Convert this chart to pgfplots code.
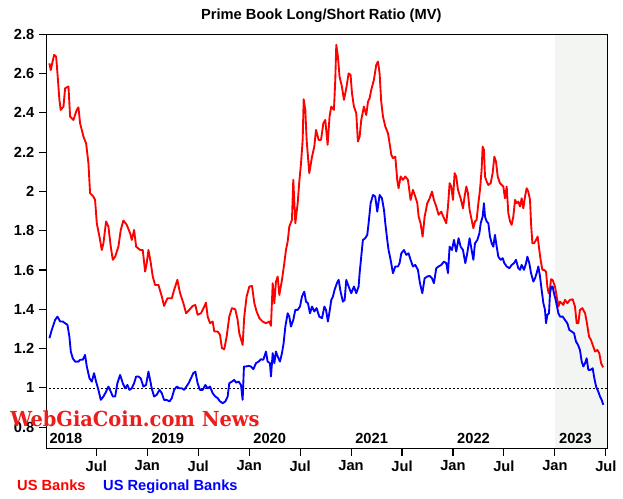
\documentclass[border=0pt]{standalone}
\usepackage{pgfplots}
\pgfplotsset{compat=1.18}
\usepackage{fontspec}
\setmainfont{Liberation Sans}
\newfontfamily\wmfont{DejaVu Serif}
\definecolor{bgshade}{RGB}{243,245,242}
\definecolor{wmred}{RGB}{235,30,30}
\tikzset{yearlab/.style={anchor=base west, inner sep=0pt, xshift=2pt, yshift=3.75pt,
        font=\fontsize{11}{13}\selectfont\bfseries}}

\begin{document}
\begin{tikzpicture}
\useasboundingbox (-35pt,-38pt) rectangle (432.3pt,336.2pt);
\begin{axis}[
  at={(0,0)}, anchor=south west,
  scale only axis, width=420.5pt, height=310.5pt,
  xmin=2018.013, xmax=2023.514, ymin=0.693, ymax=2.8,
  xtick={2018.5,2019,2019.5,2020,2020.5,2021,2021.5,2022,2022.5,2023,2023.5},
  xticklabels={Jul,Jan,Jul,Jan,Jul,Jan,Jul,Jan,Jul,Jan,Jul},
  ytick={0.8,1,1.2,1.4,1.6,1.8,2,2.2,2.4,2.6,2.8},
  xtick pos=bottom, ytick pos=left,
  tick align=outside, major tick length=5.8pt,
  tick style={black, line width=0.8pt},
  axis line style={line width=0.8pt},
  ticklabel style={font=\fontsize{11}{13}\selectfont\bfseries},
  /pgf/number format/assume math mode=true,
  axis on top,
]
\fill[bgshade] (axis cs:2023,0.5) rectangle (axis cs:2024,3);
\addplot[black, line width=0.6pt, dash pattern=on 1.5pt off 1.5pt] coordinates {(2018,1) (2024,1)};

% US Banks
\addplot[red, line width=1.4pt, line join=round] coordinates {
(2018.040,2.652) (2018.053,2.618) (2018.086,2.695) (2018.106,2.686) (2018.119,2.601)
(2018.138,2.466) (2018.151,2.415) (2018.178,2.432) (2018.194,2.525) (2018.227,2.534)
(2018.243,2.381) (2018.276,2.364) (2018.308,2.415) (2018.325,2.428) (2018.341,2.347)
(2018.374,2.279) (2018.400,2.245) (2018.423,2.143) (2018.439,1.991) (2018.472,1.974)
(2018.488,1.957) (2018.505,1.838) (2018.531,1.770) (2018.554,1.702) (2018.570,1.736)
(2018.596,1.847) (2018.619,1.821) (2018.642,1.719) (2018.662,1.652) (2018.685,1.668)
(2018.717,1.719) (2018.740,1.804) (2018.766,1.852) (2018.799,1.830) (2018.832,1.787)
(2018.848,1.753) (2018.871,1.804) (2018.891,1.719) (2018.930,1.702) (2018.956,1.702)
(2018.979,1.592) (2018.995,1.635) (2019.012,1.702) (2019.035,1.635) (2019.054,1.567)
(2019.077,1.524) (2019.110,1.524) (2019.143,1.465) (2019.165,1.417) (2019.198,1.456)
(2019.241,1.456) (2019.264,1.499) (2019.296,1.550) (2019.322,1.482) (2019.355,1.431)
(2019.381,1.380) (2019.413,1.397) (2019.445,1.417) (2019.472,1.422) (2019.494,1.372)
(2019.527,1.380) (2019.560,1.414) (2019.576,1.434) (2019.593,1.363) (2019.616,1.329)
(2019.642,1.338) (2019.658,1.287) (2019.691,1.287) (2019.714,1.270) (2019.733,1.202)
(2019.756,1.197) (2019.779,1.261) (2019.805,1.363) (2019.831,1.406) (2019.864,1.400)
(2019.887,1.346) (2019.903,1.278) (2019.936,1.219) (2019.952,1.363) (2019.975,1.465)
(2020.002,1.516) (2020.028,1.519) (2020.051,1.431) (2020.073,1.389) (2020.100,1.355)
(2020.132,1.338) (2020.165,1.329) (2020.198,1.338) (2020.214,1.316) (2020.231,1.533)
(2020.247,1.431) (2020.263,1.541) (2020.280,1.567) (2020.296,1.473) (2020.322,1.550)
(2020.345,1.635) (2020.361,1.702) (2020.378,1.745) (2020.394,1.821) (2020.420,1.855)
(2020.433,2.059) (2020.453,1.838) (2020.476,1.940) (2020.492,2.050) (2020.509,2.143)
(2020.525,2.262) (2020.535,2.469) (2020.551,2.415) (2020.564,2.262) (2020.590,2.093)
(2020.617,2.177) (2020.639,2.228) (2020.656,2.313) (2020.682,2.262) (2020.705,2.262)
(2020.728,2.347) (2020.747,2.364) (2020.770,2.237) (2020.789,2.381) (2020.806,2.432)
(2020.832,2.415) (2020.845,2.568) (2020.855,2.746) (2020.871,2.686) (2020.887,2.584)
(2020.910,2.534) (2020.930,2.466) (2020.953,2.525) (2020.976,2.601) (2020.995,2.593)
(2021.009,2.500) (2021.028,2.432) (2021.051,2.398) (2021.067,2.254) (2021.084,2.279)
(2021.100,2.364) (2021.126,2.432) (2021.149,2.389) (2021.166,2.457) (2021.182,2.474)
(2021.198,2.517) (2021.224,2.568) (2021.247,2.644) (2021.264,2.661) (2021.280,2.601)
(2021.296,2.457) (2021.313,2.381) (2021.336,2.330) (2021.362,2.296) (2021.378,2.245)
(2021.395,2.186) (2021.411,2.169) (2021.434,2.177) (2021.453,2.059) (2021.466,2.016)
(2021.486,2.076) (2021.509,2.059) (2021.532,2.076) (2021.558,2.059) (2021.584,1.957)
(2021.607,2.008) (2021.630,1.974) (2021.650,1.940) (2021.663,1.872) (2021.682,1.838)
(2021.702,1.770) (2021.722,1.872) (2021.748,1.940) (2021.771,1.965) (2021.794,1.999)
(2021.813,1.957) (2021.836,1.923) (2021.859,1.881) (2021.885,1.897) (2021.911,1.864)
(2021.934,1.838) (2021.951,1.923) (2021.967,2.042) (2021.983,2.025) (2022.000,1.957)
(2022.016,2.093) (2022.032,2.076) (2022.049,2.008) (2022.075,1.965) (2022.098,1.914)
(2022.114,1.974) (2022.131,2.025) (2022.147,1.991) (2022.163,1.906) (2022.200,1.813)
(2022.216,1.847) (2022.232,1.855) (2022.249,1.940) (2022.265,2.008) (2022.281,2.110)
(2022.291,2.228) (2022.304,2.211) (2022.314,2.076) (2022.331,2.050) (2022.347,2.033)
(2022.370,2.042) (2022.389,2.093) (2022.406,2.177) (2022.422,2.152) (2022.439,2.076)
(2022.461,2.042) (2022.478,2.033) (2022.494,2.025) (2022.510,1.965) (2022.527,2.025)
(2022.543,1.889) (2022.560,1.847) (2022.576,1.830) (2022.592,1.872) (2022.609,1.957)
(2022.625,1.940) (2022.641,1.948) (2022.658,1.923) (2022.674,1.965) (2022.690,1.914)
(2022.707,1.974) (2022.723,2.016) (2022.739,1.999) (2022.756,1.957) (2022.766,1.838)
(2022.779,1.736) (2022.795,1.736) (2022.815,1.753) (2022.831,1.770) (2022.847,1.702)
(2022.860,1.652) (2022.877,1.601) (2022.893,1.601) (2022.913,1.592) (2022.926,1.516)
(2022.939,1.482) (2022.952,1.507) (2022.962,1.553) (2022.978,1.550) (2023.001,1.516)
(2023.018,1.465) (2023.034,1.414) (2023.050,1.439) (2023.067,1.431) (2023.083,1.422)
(2023.099,1.448) (2023.122,1.431) (2023.148,1.448) (2023.175,1.451) (2023.197,1.414)
(2023.214,1.329) (2023.230,1.329) (2023.246,1.397) (2023.269,1.406) (2023.296,1.380)
(2023.312,1.338) (2023.335,1.261) (2023.354,1.244) (2023.377,1.210) (2023.394,1.185)
(2023.417,1.193) (2023.436,1.176) (2023.453,1.126) (2023.469,1.109) (2023.475,1.105)
};

% US Regional Banks
\addplot[blue, line width=1.4pt, line join=round] coordinates {
(2018.040,1.253) (2018.063,1.295) (2018.096,1.346) (2018.119,1.363) (2018.145,1.338)
(2018.171,1.338) (2018.194,1.329) (2018.217,1.321) (2018.236,1.261) (2018.250,1.185)
(2018.269,1.151) (2018.292,1.134) (2018.325,1.134) (2018.341,1.143) (2018.367,1.143)
(2018.390,1.168) (2018.407,1.109) (2018.433,1.049) (2018.456,1.032) (2018.478,1.075)
(2018.498,1.032) (2018.521,0.990) (2018.544,0.939) (2018.570,0.956) (2018.596,0.981)
(2018.619,1.007) (2018.642,0.981) (2018.662,0.956) (2018.685,0.956) (2018.707,1.024)
(2018.734,1.066) (2018.760,1.024) (2018.783,0.998) (2018.805,1.015) (2018.825,0.990)
(2018.848,0.998) (2018.871,1.024) (2018.891,1.058) (2018.913,1.058) (2018.936,1.049)
(2018.962,1.007) (2018.988,1.015) (2019.012,1.083) (2019.028,1.041) (2019.044,0.998)
(2019.067,0.956) (2019.093,0.965) (2019.120,0.990) (2019.143,0.973) (2019.165,0.939)
(2019.191,0.939) (2019.218,0.931) (2019.241,0.948) (2019.264,0.990) (2019.290,1.007)
(2019.316,0.998) (2019.339,0.998) (2019.362,0.990) (2019.406,1.024) (2019.429,1.049)
(2019.452,1.075) (2019.472,1.083) (2019.494,1.024) (2019.517,0.990) (2019.544,0.990)
(2019.570,1.015) (2019.593,0.998) (2019.616,1.007) (2019.642,0.973) (2019.668,0.956)
(2019.691,0.948) (2019.714,0.931) (2019.740,0.922) (2019.766,0.931) (2019.789,0.956)
(2019.805,1.024) (2019.831,1.032) (2019.854,1.041) (2019.871,1.027) (2019.897,1.032)
(2019.920,1.015) (2019.936,0.939) (2019.949,1.109) (2019.969,1.109) (2019.995,1.112)
(2020.018,1.109) (2020.041,1.095) (2020.067,1.126) (2020.093,1.134) (2020.116,1.146)
(2020.139,1.143) (2020.165,1.185) (2020.181,1.134) (2020.204,1.126) (2020.214,1.058)
(2020.231,1.177) (2020.247,1.126) (2020.263,1.185) (2020.280,1.160) (2020.302,1.134)
(2020.322,1.177) (2020.338,1.227) (2020.355,1.312) (2020.378,1.380) (2020.394,1.363)
(2020.410,1.312) (2020.433,1.346) (2020.453,1.397) (2020.476,1.397) (2020.499,1.414)
(2020.518,1.465) (2020.541,1.490) (2020.558,1.439) (2020.577,1.431) (2020.597,1.380)
(2020.617,1.414) (2020.639,1.389) (2020.662,1.406) (2020.688,1.363) (2020.715,1.355)
(2020.738,1.414) (2020.754,1.397) (2020.773,1.338) (2020.789,1.389) (2020.806,1.448)
(2020.822,1.465) (2020.838,1.499) (2020.861,1.533) (2020.878,1.550) (2020.897,1.490)
(2020.920,1.439) (2020.937,1.448) (2020.953,1.550) (2020.976,1.516) (2021.002,1.482)
(2021.028,1.516) (2021.051,1.482) (2021.074,1.516) (2021.084,1.584) (2021.100,1.669)
(2021.116,1.753) (2021.139,1.762) (2021.159,1.779) (2021.172,1.838) (2021.192,1.940)
(2021.215,1.982) (2021.237,1.974) (2021.257,1.897) (2021.280,1.982) (2021.303,1.965)
(2021.323,1.906) (2021.336,1.838) (2021.355,1.753) (2021.368,1.702) (2021.388,1.652)
(2021.411,1.584) (2021.434,1.618) (2021.460,1.618) (2021.476,1.635) (2021.493,1.685)
(2021.519,1.702) (2021.542,1.677) (2021.564,1.685) (2021.584,1.652) (2021.607,1.618)
(2021.630,1.626) (2021.656,1.601) (2021.676,1.533) (2021.699,1.482) (2021.722,1.558)
(2021.748,1.567) (2021.771,1.570) (2021.794,1.558) (2021.813,1.533) (2021.836,1.609)
(2021.859,1.618) (2021.885,1.626) (2021.911,1.643) (2021.934,1.635) (2021.951,1.584)
(2021.967,1.719) (2021.990,1.702) (2022.010,1.753) (2022.032,1.694) (2022.055,1.762)
(2022.075,1.719) (2022.098,1.702) (2022.121,1.635) (2022.140,1.685) (2022.163,1.762)
(2022.183,1.702) (2022.200,1.652) (2022.216,1.736) (2022.239,1.753) (2022.259,1.787)
(2022.272,1.838) (2022.291,1.872) (2022.304,1.940) (2022.314,1.872) (2022.331,1.847)
(2022.347,1.838) (2022.363,1.770) (2022.380,1.736) (2022.396,1.719) (2022.412,1.779)
(2022.429,1.719) (2022.445,1.668) (2022.468,1.652) (2022.488,1.660) (2022.504,1.635)
(2022.527,1.618) (2022.553,1.609) (2022.576,1.626) (2022.599,1.635) (2022.618,1.652)
(2022.641,1.609) (2022.658,1.601) (2022.674,1.626) (2022.697,1.601) (2022.717,1.635)
(2022.730,1.668) (2022.749,1.635) (2022.766,1.584) (2022.789,1.541) (2022.805,1.558)
(2022.821,1.584) (2022.838,1.618) (2022.854,1.567) (2022.870,1.499) (2022.887,1.431)
(2022.903,1.397) (2022.913,1.329) (2022.926,1.372) (2022.942,1.380) (2022.952,1.482)
(2022.965,1.516) (2022.978,1.516) (2022.991,1.482) (2023.004,1.456) (2023.018,1.422)
(2023.034,1.380) (2023.050,1.363) (2023.076,1.363) (2023.099,1.346) (2023.122,1.329)
(2023.142,1.295) (2023.165,1.287) (2023.188,1.278) (2023.207,1.236) (2023.227,1.219)
(2023.246,1.193) (2023.263,1.134) (2023.279,1.109) (2023.296,1.126) (2023.312,1.151)
(2023.328,1.092) (2023.351,1.092) (2023.371,1.100) (2023.384,1.058) (2023.404,1.007)
(2023.426,0.981) (2023.443,0.956) (2023.459,0.939) (2023.475,0.914)
};

\node[yearlab] at (axis cs:2018.013,0.693) {2018};
\node[yearlab] at (axis cs:2019.013,0.693) {2019};
\node[yearlab] at (axis cs:2020.013,0.693) {2020};
\node[yearlab] at (axis cs:2021.013,0.693) {2021};
\node[yearlab] at (axis cs:2022.013,0.693) {2022};
\node[yearlab] at (axis cs:2023.013,0.693) {2023};
\end{axis}

\node[anchor=base, inner sep=0pt, font=\fontsize{11}{13}\selectfont\bfseries]
  at (206pt,321.2pt) {Prime Book Long/Short Ratio (MV)};
\node[anchor=base west, inner sep=0pt, text=red, font=\fontsize{11}{13}\selectfont\bfseries]
  at (-22.3pt,-31.8pt) {US Banks};
\node[anchor=base west, inner sep=0pt, text=blue, font=\fontsize{11}{13}\selectfont\bfseries]
  at (42.2pt,-31.8pt) {US Regional Banks};
\node[anchor=base west, inner sep=0pt, text=wmred, font=\wmfont\bfseries\fontsize{15.5}{17}\selectfont]
  at (-27.5pt,16.2pt) {\scalebox{0.94}[1]{WebGiaCoin.com News}};
\end{tikzpicture}
\end{document}
